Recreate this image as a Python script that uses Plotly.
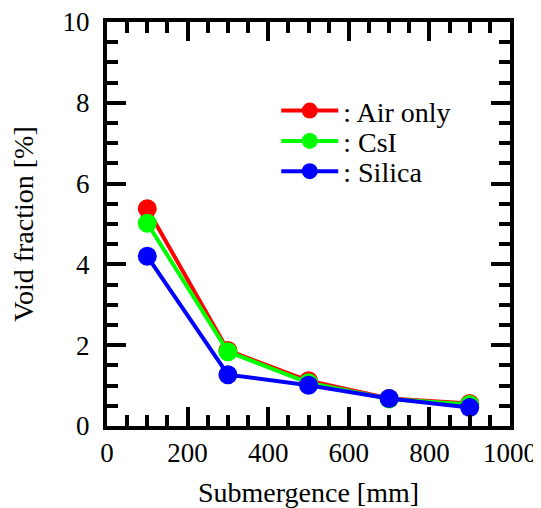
import plotly.graph_objects as go

submergence = [100, 300, 500, 700, 900]
air_only = [5.38, 1.87, 1.12, 0.68, 0.56]
csi = [5.02, 1.84, 1.07, 0.67, 0.53]
silica = [4.2, 1.27, 1.01, 0.68, 0.46]

series_names = [": Air only", ": CsI", ": Silica"]
series_colors = ["#ff0000", "#00ff00", "#0000ff"]
series_values = [air_only, csi, silica]
legend_ids = ["legend", "legend2", "legend3"]
legend_y = [0.78, 0.705, 0.63]

FONT = "Liberation Serif"

fig = go.Figure()
for name, color, vals, lid in zip(series_names, series_colors, series_values, legend_ids):
    fig.add_trace(go.Scatter(
        x=submergence, y=vals, name=name, mode="lines+markers",
        line=dict(color=color, width=4),
        marker=dict(color=color, size=19),
        legend=lid,
    ))

axis_common = dict(
    showline=True, linecolor="black", linewidth=4, mirror="ticks",
    ticks="inside", tickcolor="black", tickwidth=3.5, ticklen=19,
    showgrid=False, zeroline=False, automargin=False,
    ticklabeloverflow="allow",
    tickfont=dict(family=FONT, size=27, color="black"),
)

fig.update_xaxes(
    range=[0, 1000], dtick=200, tick0=0,
    minor=dict(dtick=50, ticks="inside", ticklen=11, tickwidth=3.5, tickcolor="black"),
    ticklabelstandoff=0,
    title=dict(text="Submergence [mm]", font=dict(family=FONT, size=28, color="black"), standoff=18),
    **axis_common,
)
fig.update_yaxes(
    range=[0, 10], dtick=2, tick0=0,
    minor=dict(dtick=0.5, ticks="inside", ticklen=11, tickwidth=3.5, tickcolor="black"),
    ticklabelstandoff=8,
    title=dict(text="Void fraction [%]", font=dict(family=FONT, size=28, color="black"), standoff=36),
    **axis_common,
)

legend_common = dict(
    x=0.42, xanchor="left", yanchor="middle",
    bgcolor="rgba(0,0,0,0)",
    font=dict(family=FONT, size=28, color="black"),
    itemwidth=57,
)

fig.update_layout(
    template="none",
    width=533, height=500,
    margin=dict(l=99, r=31, t=14, b=82),
    plot_bgcolor="white", paper_bgcolor="white",
    showlegend=True,
    legend=dict(y=legend_y[0], **legend_common),
    legend2=dict(y=legend_y[1], **legend_common),
    legend3=dict(y=legend_y[2], **legend_common),
)

fig.write_html("out.html")
